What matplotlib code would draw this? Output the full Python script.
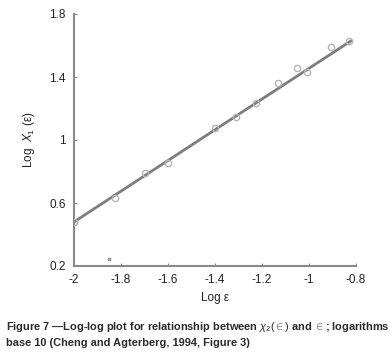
import matplotlib.pyplot as plt
import numpy as np

plt.rcParams['font.family'] = ['Liberation Sans', 'DejaVu Sans']
plt.rcParams['mathtext.fontset'] = 'custom'
plt.rcParams['mathtext.rm'] = 'Liberation Sans'
plt.rcParams['mathtext.it'] = 'Liberation Sans:italic'
plt.rcParams['mathtext.bf'] = 'Liberation Sans:bold'

# data
log_eps = [-2.0, -1.825, -1.70, -1.60, -1.40, -1.31, -1.226, -1.13, -1.05, -1.01, -0.906, -0.83]
log_chi = [0.48, 0.634, 0.79, 0.854, 1.076, 1.146, 1.235, 1.36, 1.46, 1.43, 1.59, 1.63]
stray_x = [-1.85]
stray_y = [0.245]
fit_slope = 0.975
fit_intercept = 2.43
fit_range = [-2.0, -0.82]
xticks = [-2, -1.8, -1.6, -1.4, -1.2, -1, -0.8]
yticks = [0.2, 0.6, 1.0, 1.4, 1.8]
xtick_labels = ['-2', '-1.8', '-1.6', '-1.4', '-1.2', '-1', '-0.8']
ytick_labels = ['0.2', '0.6', '1', '1.4', '1.8']

fig = plt.figure(figsize=(3.9, 3.55), dpi=100)
# axes: x from px 74 to 356, y from px 14 to 266
ax = fig.add_axes([74/390, 1 - 266/355, (356-74)/390, (266-14)/355])

axis_col = '#8a8a8a'
fx = np.array(fit_range)
ax.plot(fx, fit_slope*fx + fit_intercept, color='#7d7d7d', lw=2.0, zorder=2)
ax.plot(log_eps, log_chi, 'o', mfc='none', mec='#b5b5b5', ms=4.5, mew=1.0, zorder=3)
ax.plot(stray_x, stray_y, 'o', color='#999999', ms=1.8, zorder=3)

ax.set_xlim(-2, -0.8)
ax.set_ylim(0.2, 1.8)
ax.set_xticks(xticks)
ax.set_xticklabels(xtick_labels)
ax.set_yticks(yticks)
ax.set_yticklabels(ytick_labels)
for s in ['top', 'right']:
    ax.spines[s].set_visible(False)
for s in ['left', 'bottom']:
    ax.spines[s].set_color(axis_col)
    ax.spines[s].set_linewidth(1.5)
ax.tick_params(direction='in', length=2, color=axis_col, labelsize=8.5,
               labelcolor='#222222', pad=6)
ax.set_xlabel('Log ε', fontsize=8.5, color='#222222', labelpad=4)
ax.set_ylabel(r'Log  $\it{X}_1$ (ε)', fontsize=8.5, color='#222222', labelpad=9)

cap_kw = dict(fontsize=7.9, fontweight='bold', color='#2a2a2a', va='center', ha='left')
fig.text(6/390, 1 - 327/355,
         r'Figure 7 —Log-log plot for relationship between $\chi_2(\in)$ and $\in$; logarithms',
         **cap_kw)
fig.text(6/390, 1 - 343/355, 'base 10 (Cheng and Agterberg, 1994, Figure 3)', **cap_kw)

fig.savefig('out.png', dpi=100)
